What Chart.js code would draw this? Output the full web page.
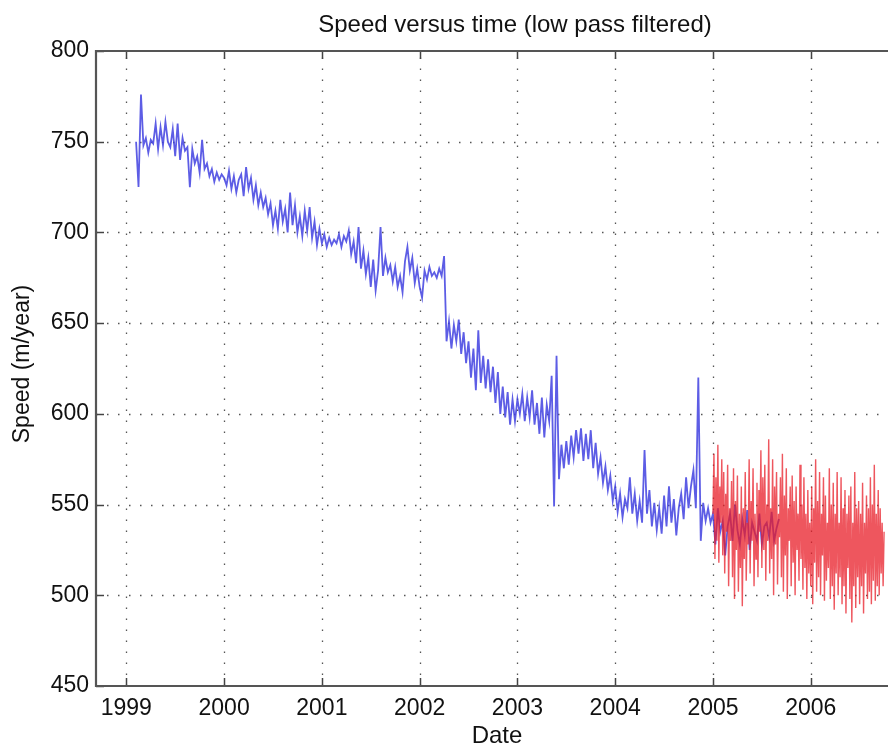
<!DOCTYPE html>
<html>
<head>
<meta charset="utf-8">
<title>Speed versus time</title>
<script src="https://cdn.jsdelivr.net/npm/chart.js@4.4.1/dist/chart.umd.min.js"></script>
<style>
  html, body { margin: 0; padding: 0; background: #fff; }
  #wrap { position: relative; width: 888px; height: 747px; }
</style>
</head>
<body>
<div id="wrap"><canvas id="speedChart" width="888" height="747"></canvas></div>
<script>
// --- DATA ---
const yearTicks = [1999, 2000, 2001, 2002, 2003, 2004, 2005, 2006];
const speedTicks = [450, 500, 550, 600, 650, 700, 750, 800];

// blue series: sampled every 0.025 yr from 1999.10
const blueStart = 1999.10;
const blueStep = 0.025;
const blueSpeed = [
  750, 725, 776, 748, 752, 744, 751, 749, 760, 746, 758, 748, 761, 750, 747, 757, 742, 760, 740, 752,
  745, 747, 725, 746, 738, 742, 733, 751, 735, 738, 731, 735, 728, 733, 729, 732,
  // 2000
  730, 726, 734, 724, 731, 722, 729, 732, 720, 736, 724, 730, 718, 726, 715, 722, 714, 719, 710, 716,
  704, 712, 702, 718, 706, 713, 700, 722, 704, 715, 700, 709, 698, 712, 701, 714, 697, 706, 693, 702,
  // 2001
  694, 699, 692, 697, 693, 696, 694, 699, 692, 698, 695, 701, 688, 695, 683, 703, 680, 690, 677, 686,
  670, 685, 668, 679, 703, 676, 686, 678, 682, 673, 681, 670, 676, 667, 684, 692, 679, 686, 672, 680,
  // 2002
  670, 664, 679, 674, 681, 676, 678, 675, 680, 676, 687, 640, 651, 636, 649, 640, 652, 633, 645, 628,
  640, 620, 636, 613, 646, 617, 632, 614, 630, 612, 626, 606, 623, 600, 615, 598, 612, 594, 608, 596,
  // 2003
  608, 600, 611, 596, 609, 598, 613, 594, 606, 589, 609, 587, 605, 596, 621, 549, 632, 564, 583, 570,
  585, 572, 588, 576, 591, 578, 592, 574, 589, 575, 591, 570, 584, 567, 576, 562, 571, 558, 566, 552,
  // 2004
  560, 546, 556, 543, 553, 548, 565, 545, 556, 541, 552, 540, 580, 545, 558, 538, 551, 536, 548, 534,
  555, 538, 560, 540, 553, 533, 548, 556, 542, 565, 548, 560, 569, 548, 620, 530, 551, 541, 548, 540,
  // 2005 (mostly hidden under the red trace)
  545, 528, 548, 535, 541, 522, 538, 545, 530, 550, 536, 528, 542, 533, 547, 525, 540, 535, 530, 545,
  528, 538, 540, 532, 546, 530, 537, 542
];

// red series: sampled every 0.01 yr from 2005.00
const redStart = 2005.00;
const redStep = 0.01;
const redSpeed = [
  545, 578, 520, 565, 530, 583, 518, 560, 540, 575,
  522, 568, 512, 556, 535, 572, 505, 548, 530, 563,
  510, 570, 498, 552, 525, 566, 502, 545, 515, 560,
  494, 548, 520, 568, 508, 540, 528, 575, 512, 552,
  530, 570, 505, 545, 520, 562, 510, 558, 535, 580,
  515, 565, 525, 572, 508, 550, 530, 586, 512, 548,
  520, 575, 500, 560, 528, 568, 506, 545, 532, 565,
  510, 578, 502, 555, 522, 570, 498, 548, 530, 560,
  505, 566, 518, 552, 500, 560, 525, 545, 508, 572,
  520, 550, 503, 565, 515, 545, 498, 558, 512, 540,
  505, 560, 495, 548, 518, 575, 502, 552, 510, 568,
  500, 545, 522, 565, 497, 555, 508, 540, 515, 570,
  498, 550, 505, 562, 492, 545, 512, 568, 500, 540,
  510, 565, 495, 548, 505, 558, 490, 545, 515, 555,
  498, 560, 485, 540, 505, 568, 493, 548, 510, 552,
  495, 545, 505, 562, 490, 540, 512, 555, 498, 548,
  502, 565, 495, 550, 508, 572, 497, 545, 505, 558,
  500, 548, 512, 540, 505, 535
];

const FONT = "'Liberation Sans', Arial, Helvetica, sans-serif";

function toPoints(start, step, values) {
  return values.map((v, i) => ({ x: start + i * step, y: v }));
}

// --- MATLAB style frame: dotted grid, inner ticks, axis lines, labels ---
const matlabFrame = {
  id: 'matlabFrame',
  beforeDatasetsDraw(chart) {
    const { ctx, chartArea: a, scales: { x, y } } = chart;
    ctx.save();
    ctx.strokeStyle = '#555';
    ctx.lineWidth = 1.3;
    ctx.setLineDash([1.5, 9.5]);
    yearTicks.forEach(t => {
      const px = Math.round(x.getPixelForValue(t)) + 0.5;
      ctx.beginPath(); ctx.moveTo(px, a.bottom); ctx.lineTo(px, a.top); ctx.stroke();
    });
    speedTicks.slice(1, -1).forEach(t => {
      const py = Math.round(y.getPixelForValue(t)) + 0.5;
      ctx.beginPath(); ctx.moveTo(a.left, py); ctx.lineTo(a.right, py); ctx.stroke();
    });
    ctx.restore();
  },
  afterDatasetsDraw(chart) {
    const { ctx, chartArea: a, scales: { x, y } } = chart;
    ctx.save();
    ctx.strokeStyle = '#444';
    ctx.lineWidth = 1.5;
    yearTicks.forEach(t => {
      const px = Math.round(x.getPixelForValue(t)) + 0.5;
      ctx.beginPath(); ctx.moveTo(px, a.bottom); ctx.lineTo(px, a.bottom - 8); ctx.stroke();
      ctx.beginPath(); ctx.moveTo(px, a.top); ctx.lineTo(px, a.top + 8); ctx.stroke();
    });
    speedTicks.forEach(t => {
      const py = Math.round(y.getPixelForValue(t)) + 0.5;
      ctx.beginPath(); ctx.moveTo(a.left, py); ctx.lineTo(a.left + 8, py); ctx.stroke();
    });
    // axes box (right edge falls outside the picture)
    ctx.strokeStyle = '#555';
    ctx.lineWidth = 2.2;
    ctx.beginPath();
    ctx.moveTo(a.right, a.top); ctx.lineTo(a.left, a.top);
    ctx.lineTo(a.left, a.bottom); ctx.lineTo(a.right, a.bottom);
    ctx.stroke();

    // texts
    ctx.fillStyle = '#111';
    ctx.textAlign = 'center';
    ctx.textBaseline = 'middle';
    ctx.font = '24px ' + FONT;
    ctx.fillText('Speed versus time (low pass filtered)', 515, 25);
    ctx.fillText('Date', 497, 736);
    ctx.translate(23, 364);
    ctx.rotate(-Math.PI / 2);
    ctx.font = '23px ' + FONT;
    ctx.fillText('Speed (m/year)', 0, 0);
    ctx.restore();
  }
};

const ctx = document.getElementById('speedChart').getContext('2d');
const speedChart = new Chart(ctx, {
  type: 'line',
  data: {
    datasets: [
      {
        label: '1999-2005',
        data: toPoints(blueStart, blueStep, blueSpeed),
        borderColor: 'rgba(65, 65, 225, 0.85)',
        borderWidth: 1.8,
        pointRadius: 0,
        tension: 0,
        order: 2
      },
      {
        label: '2005-2006',
        data: toPoints(redStart, redStep, redSpeed),
        borderColor: 'rgba(232, 30, 40, 0.75)',
        borderWidth: 1.4,
        pointRadius: 0,
        tension: 0,
        order: 1
      }
    ]
  },
  options: {
    responsive: false,
    animation: false,
    devicePixelRatio: 1,
    layout: { padding: { top: 51, right: 0, bottom: 0, left: 0 } },
    plugins: { legend: { display: false }, tooltip: { enabled: false }, title: { display: false } },
    scales: {
      x: {
        type: 'linear',
        min: 1998.69,
        max: 2006.79,
        afterFit: s => { s.height = 61; },
        afterBuildTicks: s => { s.ticks = yearTicks.map(v => ({ value: v })); },
        grid: { display: false, drawTicks: false },
        border: { display: false },
        ticks: {
          padding: 9,
          color: '#111',
          font: { family: FONT, size: 23 },
          callback: v => String(v),
          autoSkip: false,
          maxRotation: 0
        }
      },
      y: {
        type: 'linear',
        min: 450,
        max: 800,
        afterFit: s => { s.width = 96; },
        afterBuildTicks: s => { s.ticks = speedTicks.map(v => ({ value: v })); },
        grid: { display: false, drawTicks: false },
        border: { display: false },
        ticks: {
          padding: 7,
          color: '#111',
          font: { family: FONT, size: 23 },
          callback: v => String(v)
        }
      }
    }
  },
  plugins: [matlabFrame]
});
</script>
</body>
</html>
